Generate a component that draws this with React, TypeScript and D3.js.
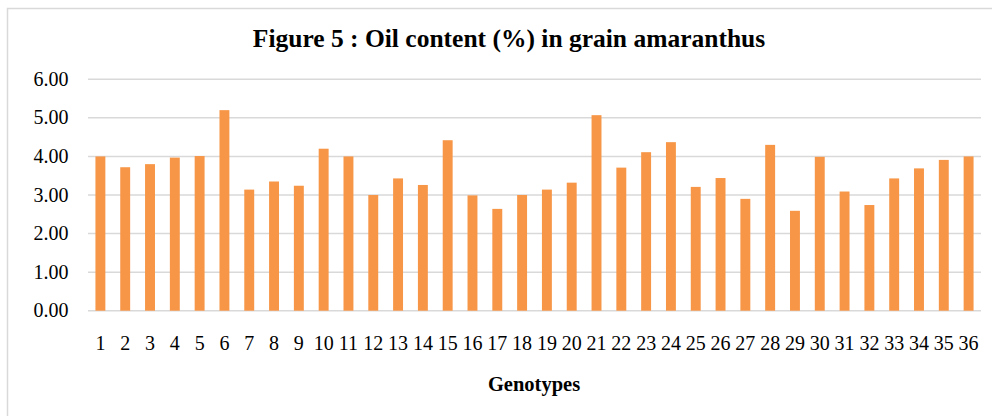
import React, { useRef, useEffect } from "react";
import * as d3 from "d3";

const genotypes: string[] = [
  "1", "2", "3", "4", "5", "6", "7", "8", "9", "10", "11", "12",
  "13", "14", "15", "16", "17", "18", "19", "20", "21", "22", "23", "24",
  "25", "26", "27", "28", "29", "30", "31", "32", "33", "34", "35", "36",
];

const oilContent: number[] = [
  4.0, 3.72, 3.8, 3.97, 4.01, 5.2, 3.14, 3.35, 3.24, 4.2, 4.0, 3.0,
  3.43, 3.26, 4.42, 2.99, 2.64, 3.0, 3.14, 3.32, 5.07, 3.71, 4.11, 4.37,
  3.21, 3.44, 2.9, 4.3, 2.59, 3.99, 3.09, 2.74, 3.43, 3.69, 3.91, 4.0,
];

const yTicks: number[] = [0, 1, 2, 3, 4, 5, 6];

const chartTitle = "Figure 5 : Oil content (%) in grain amaranthus";
const xTitle = "Genotypes";

const serif = "'Liberation Serif', 'Times New Roman', serif";

export default function App() {
  const svgRef = useRef<SVGSVGElement | null>(null);

  useEffect(() => {
    const width = 992;
    const height = 416;
    const margin = { top: 79.3, right: 11, bottom: 105.3, left: 88 };

    const svg = d3.select(svgRef.current);
    svg.selectAll("*").remove();
    svg.attr("width", width).attr("height", height);

    // outer frame, runs off the right and bottom edge like the source
    svg
      .append("rect")
      .attr("x", 7.5)
      .attr("y", 8.5)
      .attr("width", 1000)
      .attr("height", 430)
      .attr("fill", "#fff")
      .attr("stroke", "#d9d9d9")
      .attr("stroke-width", 1.5);

    const x = d3
      .scaleBand<string>()
      .domain(genotypes)
      .range([margin.left, width - margin.right])
      .paddingInner(0.6)
      .paddingOuter(0.3);

    const y = d3
      .scaleLinear()
      .domain([0, 6])
      .range([height - margin.bottom, margin.top]);

    // gridlines
    svg
      .append("g")
      .selectAll("line")
      .data(yTicks)
      .join("line")
      .attr("x1", margin.left)
      .attr("x2", width - margin.right)
      .attr("y1", (d) => y(d))
      .attr("y2", (d) => y(d))
      .attr("stroke", "#d9d9d9")
      .attr("stroke-width", 1.5);

    // y tick labels
    svg
      .append("g")
      .attr("font-family", serif)
      .attr("font-size", 20)
      .attr("text-anchor", "end")
      .attr("fill", "#000")
      .selectAll("text")
      .data(yTicks)
      .join("text")
      .attr("x", 68.5)
      .attr("y", (d) => y(d))
      .attr("dy", "0.33em")
      .text((d) => d3.format(".2f")(d));

    // bars
    svg
      .append("g")
      .selectAll("rect")
      .data(oilContent)
      .join("rect")
      .attr("x", (d, i) => x(genotypes[i]) as number)
      .attr("y", (d) => y(d))
      .attr("width", x.bandwidth())
      .attr("height", (d) => y(0) - y(d))
      .attr("fill", "#f79646");

    // x tick labels
    svg
      .append("g")
      .attr("font-family", serif)
      .attr("font-size", 20)
      .attr("text-anchor", "middle")
      .attr("fill", "#000")
      .selectAll("text")
      .data(genotypes)
      .join("text")
      .attr("x", (d) => (x(d) as number) + x.bandwidth() / 2)
      .attr("y", 350)
      .text((d) => d);

    // titles
    svg
      .append("text")
      .attr("x", 509)
      .attr("y", 47)
      .attr("text-anchor", "middle")
      .attr("font-family", serif)
      .attr("font-weight", "bold")
      .attr("font-size", 25.5)
      .text(chartTitle);

    svg
      .append("text")
      .attr("x", 534)
      .attr("y", 391)
      .attr("text-anchor", "middle")
      .attr("font-family", serif)
      .attr("font-weight", "bold")
      .attr("font-size", 20.5)
      .text(xTitle);
  }, []);

  return (
    <div style={{ position: "absolute", left: 0, top: 0 }}>
      <svg ref={svgRef} style={{ display: "block" }} />
    </div>
  );
}
